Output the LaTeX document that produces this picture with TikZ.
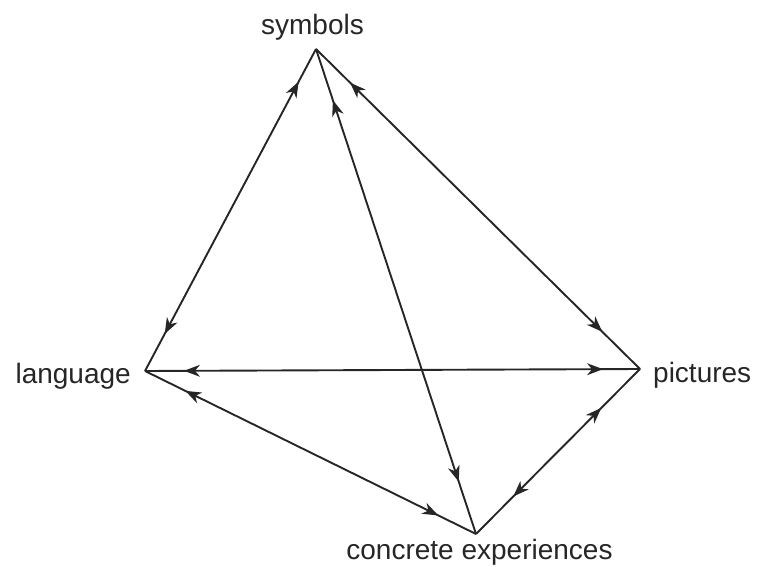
\documentclass[tikz,border=0pt]{standalone}
\usepackage{fontspec}
\setmainfont{Liberation Sans}
\usetikzlibrary{decorations.markings}
\begin{document}
\begin{tikzpicture}[x=1pt,y=-1pt,
  edge/.style={line width=1.9pt, draw=black!85},
  tw/.style 2 args={postaction={decorate,decoration={markings,
    mark=at position #1pt with {\fill[black!85] (0pt,0pt) -- (16pt,6pt) -- (11pt,0pt) -- (16pt,-6pt) -- cycle;},
    mark=at position -#2pt with {\fill[black!85] (0pt,0pt) -- (-16pt,6pt) -- (-11pt,0pt) -- (-16pt,-6pt) -- cycle;}}}},
  lbl/.style={font=\fontsize{28}{30}\selectfont, inner sep=0pt, text=black!85}]
\useasboundingbox (0,0) rectangle (758,567);
\coordinate (S) at (316,49);
\coordinate (L) at (145,371);
\coordinate (P) at (640,369);
\coordinate (C) at (476,534);
\node[lbl, anchor=base] (ts) at (312.5,35) {symbols};
\node[lbl, anchor=base east] (tl) at (131,383) {language};
\node[lbl, anchor=base west] (tp) at (653,382) {pictures};
\node[lbl, anchor=base] (tc) at (479.5,559) {concrete experiences};
\draw[edge, tw={37}{42}] (S) -- (L);
\draw[edge, tw={48}{53}] (S) -- (P);
\draw[edge, tw={54}{55}] (S) -- (C);
\draw[edge, tw={39}{37}] (L) -- (P);
\draw[edge, tw={45}{42}] (L) -- (C);
\draw[edge, tw={55}{53}] (P) -- (C);
\end{tikzpicture}
\end{document}
